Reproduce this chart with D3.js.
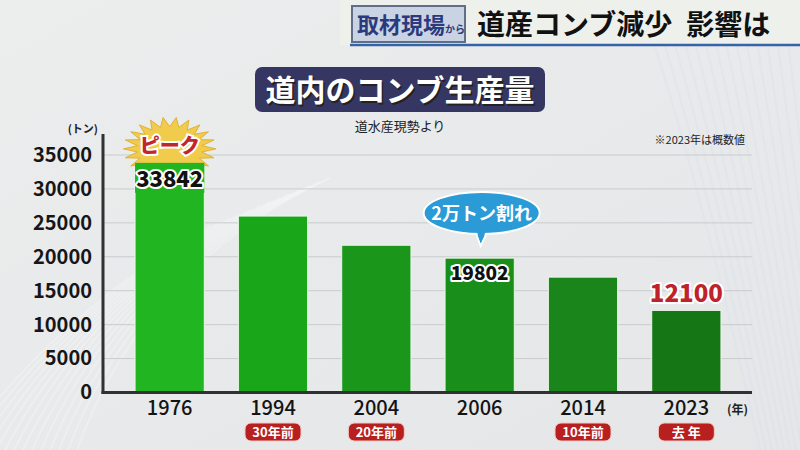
<!DOCTYPE html>
<html>
<head>
<meta charset="utf-8">
<script src="https://cdn.jsdelivr.net/npm/d3@7"></script>
<style>
  body { margin: 0; background: #e9eaeb; }
  svg { display: block; font-family: "Noto Sans CJK JP", "Noto Sans", sans-serif; }
</style>
</head>
<body>
<script>
// chart data
var years = ["1976", "1994", "2004", "2006", "2014", "2023"];
var tons = [33842, 26000, 21700, 19802, 17000, 12100];
var badges = ["", "30年前", "20年前", "", "10年前", "去 年"];
var yTicks = [0, 5000, 10000, 15000, 20000, 25000, 30000, 35000];
var barColors = ["#22b522", "#19a619", "#1a961a", "#1a8e1a", "#19851a", "#147614"];

var width = 800, height = 450;
var margin = {top: 134, right: 48, bottom: 57, left: 103};

var data = years.map((y, i) => ({name: y, value: tons[i], badge: badges[i], color: barColors[i]}));

var svg = d3.select("body").append("svg")
    .attr("width", width)
    .attr("height", height);

var defs = svg.append("defs");
var bg = defs.append("linearGradient").attr("id", "bg").attr("x1", 0).attr("y1", 0).attr("x2", 1).attr("y2", 1);
bg.append("stop").attr("offset", "0%").attr("stop-color", "#eceded");
bg.append("stop").attr("offset", "100%").attr("stop-color", "#e4e6e8");
svg.append("rect").attr("width", width).attr("height", height).attr("fill", "url(#bg)");

// soft streaks in the background
var streaks = svg.append("g").attr("fill", "none").attr("stroke", "#ffffff").attr("stroke-opacity", 0.25);
d3.range(14).forEach(i => {
    streaks.append("path")
        .attr("d", `M${-40 + i * 9},${450} Q${40 + i * 8},${330 - i * 5} ${200 + i * 10},${230 - i * 4}`)
        .attr("stroke-width", 2);
    streaks.append("path")
        .attr("d", `M${640 + i * 11},${0} Q${700 + i * 8},${180} ${760 + i * 6},${450}`)
        .attr("stroke-width", 2)
        .attr("stroke", "#cfe0ee");
});

// header
svg.append("rect").attr("x", 340).attr("y", 0).attr("width", 460).attr("height", 45).attr("fill", "#eef0ec");
svg.append("rect").attr("x", 352).attr("y", 6).attr("width", 113).attr("height", 36)
    .attr("fill", "#c9d3e3").attr("stroke", "#5f6f88").attr("stroke-width", 2);
svg.append("text").attr("x", 357).attr("y", 33)
    .attr("font-size", 22).attr("font-weight", "bold").attr("fill", "#2b3a7c")
    .text("取材現場")
    .append("tspan").attr("font-size", 10).text("から");
var head = svg.append("text").attr("x", 477).attr("y", 35)
    .attr("font-size", 28).attr("font-weight", "bold").attr("fill", "#111")
    .text("道産コンブ減少");
head.append("tspan").attr("dx", 14).text("影響は");
svg.append("line").attr("x1", 350).attr("x2", 800).attr("y1", 45).attr("y2", 45)
    .attr("stroke", "#3563a8").attr("stroke-width", 2.5);

// title box
svg.append("rect").attr("x", 255).attr("y", 67).attr("width", 290).attr("height", 45).attr("rx", 7)
    .attr("fill", "#363662");
svg.append("text").attr("x", 400).attr("y", 101).attr("text-anchor", "middle")
    .attr("font-size", 30).attr("font-weight", "bold").attr("fill", "#222")
    .attr("transform", "translate(1.5,1.5)")
    .text("道内のコンブ生産量");
svg.append("text").attr("x", 400).attr("y", 101).attr("text-anchor", "middle")
    .attr("font-size", 30).attr("font-weight", "bold").attr("fill", "#fff")
    .text("道内のコンブ生産量");
svg.append("text").attr("x", 400).attr("y", 131).attr("text-anchor", "middle")
    .attr("font-size", 13).attr("fill", "#222")
    .text("道水産現勢より");
svg.append("text").attr("x", 745).attr("y", 144).attr("text-anchor", "end")
    .attr("font-size", 11).attr("fill", "#222")
    .text("※2023年は概数値");

var x = d3.scaleBand()
    .domain(years)
    .range([118, 738])
    .paddingInner(0.33)
    .paddingOuter(0.165);

var y = d3.scaleLinear()
    .domain([0, 35000])
    .range([height - margin.bottom - 0.5, 155]);

// gridlines
svg.append("g")
    .selectAll("line").data(yTicks.slice(1)).enter().append("line")
    .attr("x1", margin.left).attr("x2", 752)
    .attr("y1", d => y(d)).attr("y2", d => y(d))
    .attr("stroke", "#c9cbcd").attr("stroke-width", 1);

// y axis
var yAxis = g => g
    .attr("transform", `translate(${margin.left},0)`)
    .call(d3.axisLeft(y).tickValues(yTicks).tickSize(0).tickPadding(11).tickFormat(d3.format("d")))
    .call(g => g.select(".domain").remove())
    .call(g => g.selectAll("text")
        .attr("font-size", 20).attr("font-weight", "bold").attr("fill", "#161616")
        .attr("font-family", "\"Noto Sans CJK JP\", sans-serif"));
svg.append("g").call(yAxis);

svg.append("text").attr("x", 98).attr("y", 133).attr("text-anchor", "end")
    .attr("font-size", 11).attr("font-weight", "bold").attr("fill", "#222")
    .text("(トン)");

// bars
svg.append("g")
    .selectAll("rect").data(data).enter().append("rect")
    .attr("x", d => x(d.name))
    .attr("y", d => y(d.value))
    .attr("width", x.bandwidth())
    .attr("height", d => y(0) - y(d.value))
    .attr("fill", d => d.color)
    .attr("stroke", "#e9f6e6").attr("stroke-width", 1);

// axis lines
svg.append("line").attr("x1", margin.left).attr("x2", margin.left)
    .attr("y1", 134).attr("y2", y(0) + 1.5)
    .attr("stroke", "#2f3133").attr("stroke-width", 3);
svg.append("line").attr("x1", margin.left - 1.5).attr("x2", 752)
    .attr("y1", y(0)).attr("y2", y(0))
    .attr("stroke", "#2f3133").attr("stroke-width", 3);

// x labels
var xAxis = g => g
    .attr("transform", `translate(0,${y(0)})`)
    .call(d3.axisBottom(x).tickSize(0).tickPadding(8))
    .call(g => g.select(".domain").remove())
    .call(g => g.selectAll("text")
        .attr("font-size", 20).attr("font-weight", 500).attr("fill", "#141414")
        .attr("font-family", "\"Noto Sans CJK JP\", sans-serif"));
svg.append("g").call(xAxis);

svg.append("text").attr("x", 748).attr("y", 414).attr("text-anchor", "end")
    .attr("font-size", 12).attr("font-weight", "bold").attr("fill", "#222")
    .text("(年)");

// badges under the years
var badge = svg.append("g")
    .selectAll("g").data(data.filter(d => d.badge)).enter().append("g")
    .attr("transform", d => `translate(${x(d.name) + x.bandwidth() / 2},432)`);
badge.append("rect")
    .attr("x", -28).attr("y", -9).attr("width", 56).attr("height", 18).attr("rx", 6)
    .attr("fill", "#b8201f").attr("stroke", "#f3c9c6").attr("stroke-width", 1);
badge.append("text")
    .attr("text-anchor", "middle").attr("y", 5)
    .attr("font-size", 13).attr("font-weight", "bold").attr("fill", "#fff")
    .text(d => d.badge);

// peak starburst
var peak = data[0];
var cx = x(peak.name) + x.bandwidth() / 2, cy = y(peak.value) - 14;
var burst = d3.range(44).map(i => {
    var a = i / 44 * Math.PI * 2;
    var r = i % 2 ? 31 : 44;
    return [cx + Math.cos(a) * r * 1.05, cy + Math.sin(a) * r * 0.72];
});
svg.append("path")
    .attr("d", d3.line()(burst) + "Z")
    .attr("fill", "#f1cb4c").attr("stroke", "#e0b235").attr("stroke-width", 1);
// redraw top of the first bar over the burst
svg.append("rect")
    .attr("x", x(peak.name)).attr("y", y(peak.value))
    .attr("width", x.bandwidth()).attr("height", 30)
    .attr("fill", peak.color);

svg.append("text").attr("x", cx).attr("y", cy + 4).attr("text-anchor", "middle")
    .attr("font-size", 20).attr("font-weight", "900").attr("fill", "#c2262b")
    .attr("stroke", "#fff").attr("stroke-width", 4).attr("paint-order", "stroke")
    .text("ピーク");

// value labels
var valLabel = (d, yy, fill, size) => svg.append("text")
    .attr("x", x(d.name) + x.bandwidth() / 2).attr("y", yy)
    .attr("text-anchor", "middle")
    .attr("font-size", size).attr("font-weight", "900").attr("fill", fill)
    .attr("stroke", "#fff").attr("stroke-width", 4).attr("paint-order", "stroke")
    .attr("stroke-linejoin", "round")
    .text(d.value);
valLabel(data[0], y(data[0].value) + 24, "#111", 22);
valLabel(data[3], y(data[3].value) + 22, "#111", 19);
valLabel(data[5], y(data[5].value) - 8, "#c0222b", 24);

// callout bubble over 2006
var bx = x(data[3].name) + x.bandwidth() / 2 + 2, by = 213;
var bubble = svg.append("g");
bubble.append("path")
    .attr("d", `M${bx - 8},${by + 14} L${bx - 1},${by + 33} L${bx + 8},${by + 14} Z`)
    .attr("fill", "#2a9bd6").attr("stroke", "#fff").attr("stroke-width", 2);
bubble.append("ellipse")
    .attr("cx", bx).attr("cy", by).attr("rx", 58).attr("ry", 21)
    .attr("fill", "#2a9bd6").attr("stroke", "#fff").attr("stroke-width", 2);
bubble.append("path")
    .attr("d", `M${bx - 7},${by + 12} L${bx - 1},${by + 30} L${bx + 7},${by + 12} Z`)
    .attr("fill", "#2a9bd6");
bubble.append("text").attr("x", bx).attr("y", by + 7).attr("text-anchor", "middle")
    .attr("font-size", 18).attr("font-weight", "bold").attr("fill", "#fff")
    .text("2万トン割れ");
</script>
</body>
</html>
